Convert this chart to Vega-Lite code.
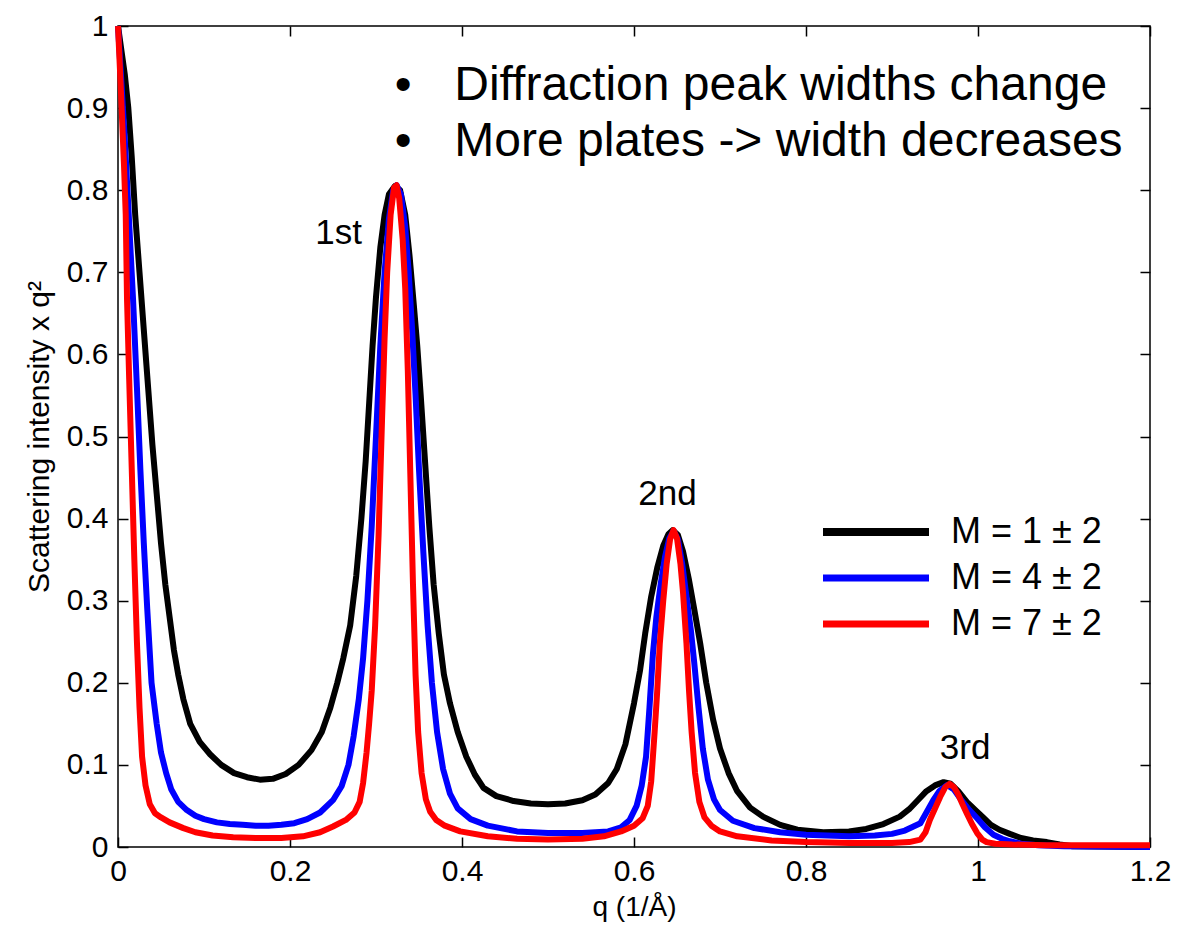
{
  "$schema": "https://vega.github.io/schema/vega-lite/v6.json",
  "width": 1032,
  "height": 821,
  "autosize": {"type": "none"},
  "padding": {"left": 118, "top": 26, "right": 28, "bottom": 78},
  "background": "white",
  "config": {
    "font": "Liberation Sans",
    "view": {"stroke": "black", "strokeWidth": 1.5},
    "axis": {
      "labelFont": "Liberation Sans", "titleFont": "Liberation Sans",
      "labelColor": "black", "titleColor": "black", "tickColor": "black",
      "domain": false, "grid": false, "tickSize": -10, "tickWidth": 1.5,
      "labelFontSize": 30, "titleFontWeight": "normal", "labelFlush": false, "labelOverlap": false
    },
    "text": {"font": "Liberation Sans", "color": "black"}
  },
  "datasets": {
    "curves": [
      {"q":0,"I":1.0,"M":"M = 1 ± 2"},{"q":0.004,"I":0.97,"M":"M = 1 ± 2"},{"q":0.008,"I":0.94,"M":"M = 1 ± 2"},{"q":0.012,"I":0.9,"M":"M = 1 ± 2"},{"q":0.016,"I":0.84,"M":"M = 1 ± 2"},{"q":0.02,"I":0.77,"M":"M = 1 ± 2"},{"q":0.025,"I":0.7,"M":"M = 1 ± 2"},{"q":0.03,"I":0.63,"M":"M = 1 ± 2"},{"q":0.035,"I":0.56,"M":"M = 1 ± 2"},{"q":0.04,"I":0.49,"M":"M = 1 ± 2"},{"q":0.045,"I":0.43,"M":"M = 1 ± 2"},{"q":0.05,"I":0.37,"M":"M = 1 ± 2"},{"q":0.055,"I":0.32,"M":"M = 1 ± 2"},{"q":0.06,"I":0.28,"M":"M = 1 ± 2"},{"q":0.065,"I":0.24,"M":"M = 1 ± 2"},{"q":0.07,"I":0.21,"M":"M = 1 ± 2"},{"q":0.076,"I":0.18,"M":"M = 1 ± 2"},{"q":0.084,"I":0.15,"M":"M = 1 ± 2"},{"q":0.095,"I":0.128,"M":"M = 1 ± 2"},{"q":0.107,"I":0.113,"M":"M = 1 ± 2"},{"q":0.12,"I":0.1,"M":"M = 1 ± 2"},{"q":0.135,"I":0.09,"M":"M = 1 ± 2"},{"q":0.15,"I":0.085,"M":"M = 1 ± 2"},{"q":0.165,"I":0.082,"M":"M = 1 ± 2"},{"q":0.18,"I":0.083,"M":"M = 1 ± 2"},{"q":0.195,"I":0.089,"M":"M = 1 ± 2"},{"q":0.21,"I":0.1,"M":"M = 1 ± 2"},{"q":0.225,"I":0.118,"M":"M = 1 ± 2"},{"q":0.237,"I":0.14,"M":"M = 1 ± 2"},{"q":0.247,"I":0.17,"M":"M = 1 ± 2"},{"q":0.255,"I":0.2,"M":"M = 1 ± 2"},{"q":0.262,"I":0.23,"M":"M = 1 ± 2"},{"q":0.27,"I":0.27,"M":"M = 1 ± 2"},{"q":0.277,"I":0.33,"M":"M = 1 ± 2"},{"q":0.283,"I":0.4,"M":"M = 1 ± 2"},{"q":0.288,"I":0.47,"M":"M = 1 ± 2"},{"q":0.292,"I":0.54,"M":"M = 1 ± 2"},{"q":0.296,"I":0.61,"M":"M = 1 ± 2"},{"q":0.3,"I":0.67,"M":"M = 1 ± 2"},{"q":0.305,"I":0.73,"M":"M = 1 ± 2"},{"q":0.31,"I":0.77,"M":"M = 1 ± 2"},{"q":0.315,"I":0.795,"M":"M = 1 ± 2"},{"q":0.322,"I":0.805,"M":"M = 1 ± 2"},{"q":0.328,"I":0.8,"M":"M = 1 ± 2"},{"q":0.334,"I":0.77,"M":"M = 1 ± 2"},{"q":0.339,"I":0.72,"M":"M = 1 ± 2"},{"q":0.344,"I":0.66,"M":"M = 1 ± 2"},{"q":0.348,"I":0.61,"M":"M = 1 ± 2"},{"q":0.352,"I":0.55,"M":"M = 1 ± 2"},{"q":0.357,"I":0.47,"M":"M = 1 ± 2"},{"q":0.362,"I":0.39,"M":"M = 1 ± 2"},{"q":0.367,"I":0.32,"M":"M = 1 ± 2"},{"q":0.373,"I":0.26,"M":"M = 1 ± 2"},{"q":0.379,"I":0.21,"M":"M = 1 ± 2"},{"q":0.386,"I":0.175,"M":"M = 1 ± 2"},{"q":0.395,"I":0.14,"M":"M = 1 ± 2"},{"q":0.405,"I":0.11,"M":"M = 1 ± 2"},{"q":0.415,"I":0.088,"M":"M = 1 ± 2"},{"q":0.425,"I":0.072,"M":"M = 1 ± 2"},{"q":0.44,"I":0.062,"M":"M = 1 ± 2"},{"q":0.46,"I":0.056,"M":"M = 1 ± 2"},{"q":0.48,"I":0.053,"M":"M = 1 ± 2"},{"q":0.5,"I":0.052,"M":"M = 1 ± 2"},{"q":0.52,"I":0.053,"M":"M = 1 ± 2"},{"q":0.54,"I":0.057,"M":"M = 1 ± 2"},{"q":0.555,"I":0.064,"M":"M = 1 ± 2"},{"q":0.57,"I":0.078,"M":"M = 1 ± 2"},{"q":0.58,"I":0.095,"M":"M = 1 ± 2"},{"q":0.59,"I":0.125,"M":"M = 1 ± 2"},{"q":0.6,"I":0.175,"M":"M = 1 ± 2"},{"q":0.607,"I":0.215,"M":"M = 1 ± 2"},{"q":0.613,"I":0.26,"M":"M = 1 ± 2"},{"q":0.62,"I":0.305,"M":"M = 1 ± 2"},{"q":0.627,"I":0.34,"M":"M = 1 ± 2"},{"q":0.634,"I":0.367,"M":"M = 1 ± 2"},{"q":0.64,"I":0.381,"M":"M = 1 ± 2"},{"q":0.645,"I":0.386,"M":"M = 1 ± 2"},{"q":0.651,"I":0.38,"M":"M = 1 ± 2"},{"q":0.657,"I":0.36,"M":"M = 1 ± 2"},{"q":0.664,"I":0.325,"M":"M = 1 ± 2"},{"q":0.67,"I":0.29,"M":"M = 1 ± 2"},{"q":0.677,"I":0.248,"M":"M = 1 ± 2"},{"q":0.684,"I":0.2,"M":"M = 1 ± 2"},{"q":0.692,"I":0.155,"M":"M = 1 ± 2"},{"q":0.7,"I":0.12,"M":"M = 1 ± 2"},{"q":0.71,"I":0.09,"M":"M = 1 ± 2"},{"q":0.72,"I":0.068,"M":"M = 1 ± 2"},{"q":0.735,"I":0.048,"M":"M = 1 ± 2"},{"q":0.75,"I":0.037,"M":"M = 1 ± 2"},{"q":0.77,"I":0.027,"M":"M = 1 ± 2"},{"q":0.79,"I":0.021,"M":"M = 1 ± 2"},{"q":0.82,"I":0.018,"M":"M = 1 ± 2"},{"q":0.85,"I":0.019,"M":"M = 1 ± 2"},{"q":0.87,"I":0.022,"M":"M = 1 ± 2"},{"q":0.89,"I":0.028,"M":"M = 1 ± 2"},{"q":0.909,"I":0.037,"M":"M = 1 ± 2"},{"q":0.92,"I":0.046,"M":"M = 1 ± 2"},{"q":0.93,"I":0.057,"M":"M = 1 ± 2"},{"q":0.94,"I":0.068,"M":"M = 1 ± 2"},{"q":0.95,"I":0.075,"M":"M = 1 ± 2"},{"q":0.96,"I":0.079,"M":"M = 1 ± 2"},{"q":0.968,"I":0.077,"M":"M = 1 ± 2"},{"q":0.977,"I":0.068,"M":"M = 1 ± 2"},{"q":0.987,"I":0.055,"M":"M = 1 ± 2"},{"q":0.997,"I":0.045,"M":"M = 1 ± 2"},{"q":1.006,"I":0.036,"M":"M = 1 ± 2"},{"q":1.015,"I":0.027,"M":"M = 1 ± 2"},{"q":1.025,"I":0.021,"M":"M = 1 ± 2"},{"q":1.037,"I":0.016,"M":"M = 1 ± 2"},{"q":1.05,"I":0.011,"M":"M = 1 ± 2"},{"q":1.064,"I":0.008,"M":"M = 1 ± 2"},{"q":1.08,"I":0.006,"M":"M = 1 ± 2"},{"q":1.095,"I":0.003,"M":"M = 1 ± 2"},{"q":1.11,"I":0.001,"M":"M = 1 ± 2"},{"q":1.2,"I":0.0,"M":"M = 1 ± 2"},

      {"q":0,"I":1.0,"M":"M = 4 ± 2"},{"q":0.004,"I":0.93,"M":"M = 4 ± 2"},{"q":0.008,"I":0.86,"M":"M = 4 ± 2"},{"q":0.012,"I":0.78,"M":"M = 4 ± 2"},{"q":0.0175,"I":0.667,"M":"M = 4 ± 2"},{"q":0.022,"I":0.56,"M":"M = 4 ± 2"},{"q":0.026,"I":0.46,"M":"M = 4 ± 2"},{"q":0.03,"I":0.37,"M":"M = 4 ± 2"},{"q":0.034,"I":0.29,"M":"M = 4 ± 2"},{"q":0.039,"I":0.2,"M":"M = 4 ± 2"},{"q":0.045,"I":0.15,"M":"M = 4 ± 2"},{"q":0.05,"I":0.115,"M":"M = 4 ± 2"},{"q":0.056,"I":0.09,"M":"M = 4 ± 2"},{"q":0.062,"I":0.07,"M":"M = 4 ± 2"},{"q":0.07,"I":0.055,"M":"M = 4 ± 2"},{"q":0.08,"I":0.045,"M":"M = 4 ± 2"},{"q":0.09,"I":0.038,"M":"M = 4 ± 2"},{"q":0.1,"I":0.034,"M":"M = 4 ± 2"},{"q":0.115,"I":0.03,"M":"M = 4 ± 2"},{"q":0.13,"I":0.028,"M":"M = 4 ± 2"},{"q":0.145,"I":0.027,"M":"M = 4 ± 2"},{"q":0.16,"I":0.026,"M":"M = 4 ± 2"},{"q":0.175,"I":0.026,"M":"M = 4 ± 2"},{"q":0.19,"I":0.027,"M":"M = 4 ± 2"},{"q":0.205,"I":0.029,"M":"M = 4 ± 2"},{"q":0.22,"I":0.034,"M":"M = 4 ± 2"},{"q":0.235,"I":0.042,"M":"M = 4 ± 2"},{"q":0.25,"I":0.057,"M":"M = 4 ± 2"},{"q":0.26,"I":0.074,"M":"M = 4 ± 2"},{"q":0.268,"I":0.1,"M":"M = 4 ± 2"},{"q":0.274,"I":0.135,"M":"M = 4 ± 2"},{"q":0.28,"I":0.18,"M":"M = 4 ± 2"},{"q":0.285,"I":0.23,"M":"M = 4 ± 2"},{"q":0.29,"I":0.3,"M":"M = 4 ± 2"},{"q":0.295,"I":0.39,"M":"M = 4 ± 2"},{"q":0.3,"I":0.5,"M":"M = 4 ± 2"},{"q":0.305,"I":0.61,"M":"M = 4 ± 2"},{"q":0.31,"I":0.7,"M":"M = 4 ± 2"},{"q":0.315,"I":0.765,"M":"M = 4 ± 2"},{"q":0.32,"I":0.8,"M":"M = 4 ± 2"},{"q":0.324,"I":0.806,"M":"M = 4 ± 2"},{"q":0.329,"I":0.795,"M":"M = 4 ± 2"},{"q":0.334,"I":0.755,"M":"M = 4 ± 2"},{"q":0.338,"I":0.7,"M":"M = 4 ± 2"},{"q":0.342,"I":0.63,"M":"M = 4 ± 2"},{"q":0.346,"I":0.55,"M":"M = 4 ± 2"},{"q":0.35,"I":0.46,"M":"M = 4 ± 2"},{"q":0.355,"I":0.36,"M":"M = 4 ± 2"},{"q":0.36,"I":0.27,"M":"M = 4 ± 2"},{"q":0.365,"I":0.2,"M":"M = 4 ± 2"},{"q":0.371,"I":0.14,"M":"M = 4 ± 2"},{"q":0.378,"I":0.095,"M":"M = 4 ± 2"},{"q":0.386,"I":0.065,"M":"M = 4 ± 2"},{"q":0.395,"I":0.047,"M":"M = 4 ± 2"},{"q":0.41,"I":0.034,"M":"M = 4 ± 2"},{"q":0.43,"I":0.026,"M":"M = 4 ± 2"},{"q":0.464,"I":0.019,"M":"M = 4 ± 2"},{"q":0.5,"I":0.017,"M":"M = 4 ± 2"},{"q":0.54,"I":0.017,"M":"M = 4 ± 2"},{"q":0.57,"I":0.019,"M":"M = 4 ± 2"},{"q":0.585,"I":0.024,"M":"M = 4 ± 2"},{"q":0.595,"I":0.033,"M":"M = 4 ± 2"},{"q":0.603,"I":0.05,"M":"M = 4 ± 2"},{"q":0.609,"I":0.075,"M":"M = 4 ± 2"},{"q":0.614,"I":0.11,"M":"M = 4 ± 2"},{"q":0.618,"I":0.17,"M":"M = 4 ± 2"},{"q":0.622,"I":0.235,"M":"M = 4 ± 2"},{"q":0.626,"I":0.28,"M":"M = 4 ± 2"},{"q":0.631,"I":0.32,"M":"M = 4 ± 2"},{"q":0.636,"I":0.353,"M":"M = 4 ± 2"},{"q":0.641,"I":0.376,"M":"M = 4 ± 2"},{"q":0.646,"I":0.385,"M":"M = 4 ± 2"},{"q":0.651,"I":0.375,"M":"M = 4 ± 2"},{"q":0.656,"I":0.345,"M":"M = 4 ± 2"},{"q":0.661,"I":0.305,"M":"M = 4 ± 2"},{"q":0.666,"I":0.265,"M":"M = 4 ± 2"},{"q":0.67,"I":0.225,"M":"M = 4 ± 2"},{"q":0.675,"I":0.17,"M":"M = 4 ± 2"},{"q":0.68,"I":0.12,"M":"M = 4 ± 2"},{"q":0.686,"I":0.082,"M":"M = 4 ± 2"},{"q":0.693,"I":0.058,"M":"M = 4 ± 2"},{"q":0.7,"I":0.045,"M":"M = 4 ± 2"},{"q":0.715,"I":0.032,"M":"M = 4 ± 2"},{"q":0.74,"I":0.023,"M":"M = 4 ± 2"},{"q":0.77,"I":0.018,"M":"M = 4 ± 2"},{"q":0.8,"I":0.015,"M":"M = 4 ± 2"},{"q":0.85,"I":0.013,"M":"M = 4 ± 2"},{"q":0.88,"I":0.014,"M":"M = 4 ± 2"},{"q":0.9,"I":0.016,"M":"M = 4 ± 2"},{"q":0.915,"I":0.02,"M":"M = 4 ± 2"},{"q":0.933,"I":0.029,"M":"M = 4 ± 2"},{"q":0.94,"I":0.042,"M":"M = 4 ± 2"},{"q":0.948,"I":0.057,"M":"M = 4 ± 2"},{"q":0.955,"I":0.068,"M":"M = 4 ± 2"},{"q":0.964,"I":0.0755,"M":"M = 4 ± 2"},{"q":0.972,"I":0.07,"M":"M = 4 ± 2"},{"q":0.98,"I":0.058,"M":"M = 4 ± 2"},{"q":0.99,"I":0.045,"M":"M = 4 ± 2"},{"q":0.999,"I":0.035,"M":"M = 4 ± 2"},{"q":1.008,"I":0.024,"M":"M = 4 ± 2"},{"q":1.018,"I":0.015,"M":"M = 4 ± 2"},{"q":1.028,"I":0.01,"M":"M = 4 ± 2"},{"q":1.037,"I":0.007,"M":"M = 4 ± 2"},{"q":1.05,"I":0.004,"M":"M = 4 ± 2"},{"q":1.07,"I":0.002,"M":"M = 4 ± 2"},{"q":1.1,"I":0.001,"M":"M = 4 ± 2"},{"q":1.2,"I":0.0,"M":"M = 4 ± 2"},

      {"q":0,"I":1.0,"M":"M = 7 ± 2"},{"q":0.003,"I":0.93,"M":"M = 7 ± 2"},{"q":0.005,"I":0.88,"M":"M = 7 ± 2"},{"q":0.007,"I":0.83,"M":"M = 7 ± 2"},{"q":0.009,"I":0.77,"M":"M = 7 ± 2"},{"q":0.0105,"I":0.667,"M":"M = 7 ± 2"},{"q":0.013,"I":0.57,"M":"M = 7 ± 2"},{"q":0.016,"I":0.46,"M":"M = 7 ± 2"},{"q":0.019,"I":0.35,"M":"M = 7 ± 2"},{"q":0.022,"I":0.25,"M":"M = 7 ± 2"},{"q":0.025,"I":0.17,"M":"M = 7 ± 2"},{"q":0.028,"I":0.11,"M":"M = 7 ± 2"},{"q":0.032,"I":0.075,"M":"M = 7 ± 2"},{"q":0.037,"I":0.052,"M":"M = 7 ± 2"},{"q":0.043,"I":0.041,"M":"M = 7 ± 2"},{"q":0.05,"I":0.036,"M":"M = 7 ± 2"},{"q":0.06,"I":0.03,"M":"M = 7 ± 2"},{"q":0.076,"I":0.023,"M":"M = 7 ± 2"},{"q":0.09,"I":0.018,"M":"M = 7 ± 2"},{"q":0.11,"I":0.014,"M":"M = 7 ± 2"},{"q":0.134,"I":0.012,"M":"M = 7 ± 2"},{"q":0.16,"I":0.011,"M":"M = 7 ± 2"},{"q":0.19,"I":0.011,"M":"M = 7 ± 2"},{"q":0.215,"I":0.013,"M":"M = 7 ± 2"},{"q":0.235,"I":0.018,"M":"M = 7 ± 2"},{"q":0.25,"I":0.025,"M":"M = 7 ± 2"},{"q":0.265,"I":0.033,"M":"M = 7 ± 2"},{"q":0.275,"I":0.042,"M":"M = 7 ± 2"},{"q":0.281,"I":0.055,"M":"M = 7 ± 2"},{"q":0.285,"I":0.078,"M":"M = 7 ± 2"},{"q":0.289,"I":0.115,"M":"M = 7 ± 2"},{"q":0.292,"I":0.15,"M":"M = 7 ± 2"},{"q":0.295,"I":0.19,"M":"M = 7 ± 2"},{"q":0.299,"I":0.27,"M":"M = 7 ± 2"},{"q":0.303,"I":0.38,"M":"M = 7 ± 2"},{"q":0.307,"I":0.52,"M":"M = 7 ± 2"},{"q":0.31,"I":0.62,"M":"M = 7 ± 2"},{"q":0.313,"I":0.7,"M":"M = 7 ± 2"},{"q":0.317,"I":0.77,"M":"M = 7 ± 2"},{"q":0.321,"I":0.803,"M":"M = 7 ± 2"},{"q":0.324,"I":0.806,"M":"M = 7 ± 2"},{"q":0.327,"I":0.79,"M":"M = 7 ± 2"},{"q":0.331,"I":0.74,"M":"M = 7 ± 2"},{"q":0.334,"I":0.68,"M":"M = 7 ± 2"},{"q":0.337,"I":0.58,"M":"M = 7 ± 2"},{"q":0.34,"I":0.45,"M":"M = 7 ± 2"},{"q":0.343,"I":0.32,"M":"M = 7 ± 2"},{"q":0.346,"I":0.21,"M":"M = 7 ± 2"},{"q":0.349,"I":0.14,"M":"M = 7 ± 2"},{"q":0.353,"I":0.09,"M":"M = 7 ± 2"},{"q":0.358,"I":0.058,"M":"M = 7 ± 2"},{"q":0.363,"I":0.043,"M":"M = 7 ± 2"},{"q":0.37,"I":0.033,"M":"M = 7 ± 2"},{"q":0.38,"I":0.026,"M":"M = 7 ± 2"},{"q":0.398,"I":0.019,"M":"M = 7 ± 2"},{"q":0.43,"I":0.013,"M":"M = 7 ± 2"},{"q":0.464,"I":0.01,"M":"M = 7 ± 2"},{"q":0.5,"I":0.009,"M":"M = 7 ± 2"},{"q":0.54,"I":0.01,"M":"M = 7 ± 2"},{"q":0.565,"I":0.013,"M":"M = 7 ± 2"},{"q":0.585,"I":0.019,"M":"M = 7 ± 2"},{"q":0.6,"I":0.026,"M":"M = 7 ± 2"},{"q":0.61,"I":0.035,"M":"M = 7 ± 2"},{"q":0.616,"I":0.05,"M":"M = 7 ± 2"},{"q":0.62,"I":0.08,"M":"M = 7 ± 2"},{"q":0.624,"I":0.14,"M":"M = 7 ± 2"},{"q":0.627,"I":0.19,"M":"M = 7 ± 2"},{"q":0.63,"I":0.248,"M":"M = 7 ± 2"},{"q":0.634,"I":0.3,"M":"M = 7 ± 2"},{"q":0.638,"I":0.345,"M":"M = 7 ± 2"},{"q":0.642,"I":0.375,"M":"M = 7 ± 2"},{"q":0.646,"I":0.386,"M":"M = 7 ± 2"},{"q":0.65,"I":0.376,"M":"M = 7 ± 2"},{"q":0.654,"I":0.345,"M":"M = 7 ± 2"},{"q":0.657,"I":0.31,"M":"M = 7 ± 2"},{"q":0.661,"I":0.248,"M":"M = 7 ± 2"},{"q":0.664,"I":0.19,"M":"M = 7 ± 2"},{"q":0.667,"I":0.14,"M":"M = 7 ± 2"},{"q":0.671,"I":0.09,"M":"M = 7 ± 2"},{"q":0.676,"I":0.055,"M":"M = 7 ± 2"},{"q":0.682,"I":0.036,"M":"M = 7 ± 2"},{"q":0.69,"I":0.026,"M":"M = 7 ± 2"},{"q":0.7,"I":0.019,"M":"M = 7 ± 2"},{"q":0.72,"I":0.013,"M":"M = 7 ± 2"},{"q":0.76,"I":0.008,"M":"M = 7 ± 2"},{"q":0.8,"I":0.006,"M":"M = 7 ± 2"},{"q":0.85,"I":0.005,"M":"M = 7 ± 2"},{"q":0.9,"I":0.005,"M":"M = 7 ± 2"},{"q":0.92,"I":0.006,"M":"M = 7 ± 2"},{"q":0.933,"I":0.009,"M":"M = 7 ± 2"},{"q":0.939,"I":0.018,"M":"M = 7 ± 2"},{"q":0.944,"I":0.033,"M":"M = 7 ± 2"},{"q":0.95,"I":0.047,"M":"M = 7 ± 2"},{"q":0.956,"I":0.061,"M":"M = 7 ± 2"},{"q":0.962,"I":0.073,"M":"M = 7 ± 2"},{"q":0.967,"I":0.077,"M":"M = 7 ± 2"},{"q":0.972,"I":0.073,"M":"M = 7 ± 2"},{"q":0.977,"I":0.064,"M":"M = 7 ± 2"},{"q":0.982,"I":0.052,"M":"M = 7 ± 2"},{"q":0.987,"I":0.041,"M":"M = 7 ± 2"},{"q":0.993,"I":0.028,"M":"M = 7 ± 2"},{"q":0.999,"I":0.017,"M":"M = 7 ± 2"},{"q":1.005,"I":0.009,"M":"M = 7 ± 2"},{"q":1.01,"I":0.006,"M":"M = 7 ± 2"},{"q":1.02,"I":0.004,"M":"M = 7 ± 2"},{"q":1.04,"I":0.003,"M":"M = 7 ± 2"},{"q":1.08,"I":0.002,"M":"M = 7 ± 2"},{"q":1.2,"I":0.002,"M":"M = 7 ± 2"}
    ],
    "peaks": [
      {"q":0.2564,"I":0.748,"label":"1st"},
      {"q":0.639,"I":0.43,"label":"2nd"},
      {"q":0.985,"I":0.12,"label":"3rd"}
    ],
    "notes": [
      {"q":0.391,"I":0.9099,"note":"Diffraction peak widths change"},
      {"q":0.391,"I":0.8417,"note":"More plates -> width decreases"}
    ]
  },
  "layer": [
    {
      "data": {"name": "curves"},
      "mark": {"type": "line", "strokeWidth": 6, "strokeJoin": "round"},
      "encoding": {
        "x": {"field": "q", "type": "quantitative",
          "scale": {"domain": [0, 1.2], "nice": false, "zero": false},
          "axis": {"values": [0, 0.2, 0.4, 0.6, 0.8, 1, 1.2], "format": "~g", "title": "q (1/Å)", "titleFontSize": 28, "labelPadding": 19, "titlePadding": 7}},
        "y": {"field": "I", "type": "quantitative",
          "scale": {"domain": [0, 1], "nice": false, "zero": false},
          "axis": {"values": [0, 0.1, 0.2, 0.3, 0.4, 0.5, 0.6, 0.7, 0.8, 0.9, 1], "format": "~g", "title": "Scattering intensity x q²", "titleFontSize": 30, "labelPadding": 20, "titlePadding": 12}},
        "color": {"field": "M", "type": "nominal",
          "scale": {"domain": ["M = 1 ± 2", "M = 4 ± 2", "M = 7 ± 2"], "range": ["#000000", "#0000ff", "#ff0000"]},
          "legend": {
            "orient": "none", "legendX": 740, "legendY": 488, "title": null,
            "symbolType": "stroke", "symbolSize": 400, "symbolStrokeWidth": 7, "symbolOpacity": 1,
            "labelFont": "Liberation Sans", "labelFontSize": 36, "labelColor": "black", "labelOffset": 57, "labelLimit": 400,
            "rowPadding": 10, "padding": 0,
            "encode": {"symbols": {
              "enter": {
                "stroke": {"signal": "datum.value === 'M = 4 ± 2' ? '#22569f' : datum.value === 'M = 1 ± 2' ? '#000000' : '#ff0000'"}
              },
              "update": {
                "size": {"value": 11236},
                "stroke": {"signal": "datum.value === 'M = 4 ± 2' ? '#22569f' : datum.value === 'M = 1 ± 2' ? '#000000' : '#ff0000'"},
                "strokeWidth": {"signal": "datum.value === 'M = 1 ± 2' ? 8 : 7"}
              }
            }}
          }}
      }
    },
    {
      "data": {"name": "peaks"},
      "mark": {"type": "text", "fontSize": 35, "align": "center", "baseline": "middle", "font": "Liberation Sans", "color": "black"},
      "encoding": {
        "x": {"field": "q", "type": "quantitative", "scale": {"domain": [0, 1.2], "nice": false, "zero": false},
          "axis": {"orient": "top", "values": [0, 0.2, 0.4, 0.6, 0.8, 1, 1.2], "labels": false, "title": null}},
        "y": {"field": "I", "type": "quantitative", "scale": {"domain": [0, 1], "nice": false, "zero": false},
          "axis": {"orient": "right", "values": [0, 0.1, 0.2, 0.3, 0.4, 0.5, 0.6, 0.7, 0.8, 0.9, 1], "labels": false, "title": null}},
        "text": {"field": "label"}
      }
    },
    {
      "data": {"name": "notes"},
      "mark": {"type": "text", "fontSize": 48, "align": "left", "baseline": "alphabetic", "font": "Liberation Sans", "color": "black"},
      "encoding": {
        "x": {"field": "q", "type": "quantitative", "scale": {"domain": [0, 1.2], "nice": false, "zero": false}, "axis": null},
        "y": {"field": "I", "type": "quantitative", "scale": {"domain": [0, 1], "nice": false, "zero": false}, "axis": null},
        "text": {"field": "note"}
      }
    },
    {
      "data": {"name": "notes"},
      "mark": {"type": "text", "fontSize": 48, "align": "center", "baseline": "alphabetic", "dx": -51, "font": "Liberation Sans", "color": "black"},
      "encoding": {
        "x": {"field": "q", "type": "quantitative", "scale": {"domain": [0, 1.2], "nice": false, "zero": false}, "axis": null},
        "y": {"field": "I", "type": "quantitative", "scale": {"domain": [0, 1], "nice": false, "zero": false}, "axis": null},
        "text": {"value": "•"}
      }
    }
  ],
  "resolve": {"axis": {"x": "independent", "y": "independent"}}
}
